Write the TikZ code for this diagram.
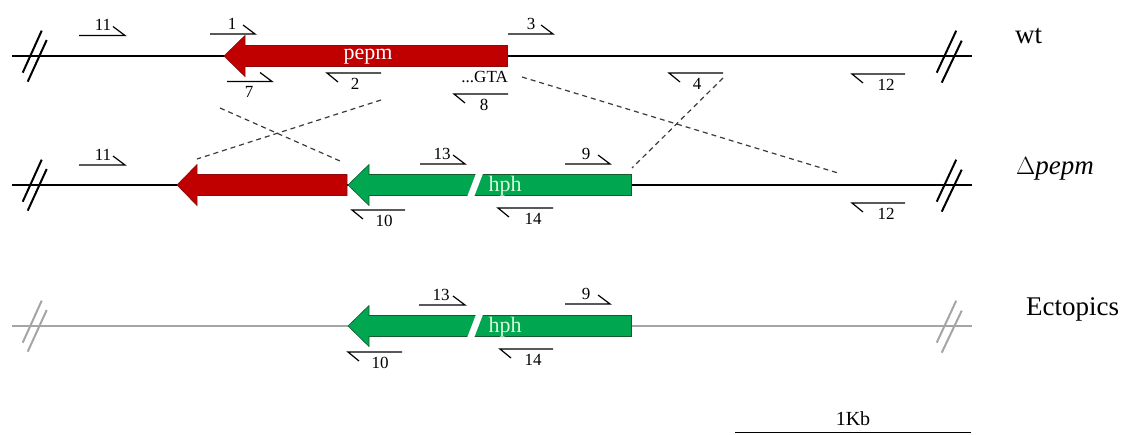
\documentclass[tikz,border=0pt]{standalone}
\usepackage{fontspec}
\setmainfont{Liberation Serif}
\definecolor{genered}{RGB}{192,0,0}
\definecolor{genereddk}{RGB}{140,10,10}
\definecolor{genegreen}{RGB}{0,166,80}
\definecolor{genegreendk}{RGB}{20,90,45}
\definecolor{hphtxt}{RGB}{215,248,218}
\definecolor{graylinec}{RGB}{165,165,165}
\definecolor{dashc}{RGB}{60,60,60}
\tikzset{
  chrom/.style={line width=2pt, black},
  chromgray/.style={line width=2pt, graylinec},
  brk/.style={line width=2pt, line cap=butt},
  primer/.style={line width=1.2pt, black},
  num/.style={font=\fontsize{17}{19}\selectfont, inner sep=0pt},
  rowlabel/.style={font=\fontsize{27}{30}\selectfont, inner sep=0pt, anchor=base west},
  genelabel/.style={font=\fontsize{22}{24}\selectfont, inner sep=0pt, anchor=base},
  redgene/.style={fill=genered, draw=genereddk, line width=0.6pt},
  greengene/.style={fill=genegreen, draw=genegreendk, line width=0.6pt},
  recomb/.style={dashed, dash pattern=on 5pt off 4pt, line width=1.2pt, dashc},
}
\newcommand{\primF}[6]{% name, x1, x2, y, labelx, text  (forward, label above)
  \draw[primer] (#2,#4) -- (#3,#4) -- ++(-12,-9);
  \node[num, anchor=base] (#1) at (#5,{#4-5}) {#6};
}
\newcommand{\primFb}[6]{% forward, label below
  \draw[primer] (#2,#4) -- (#3,#4) -- ++(-12,-9);
  \node[num, anchor=base] (#1) at (#5,{#4+16}) {#6};
}
\newcommand{\primR}[6]{% reverse, label below
  \draw[primer] ({#2+11},{#4+9}) -- (#2,#4) -- (#3,#4);
  \node[num, anchor=base] (#1) at (#5,{#4+16}) {#6};
}
\newcommand{\brks}[2]{% y, style color
  \draw[brk,#2] (41.7,{#1-25.3}) -- (22.7,{#1+16.7});
  \draw[brk,#2] (46.7,{#1-16}) -- (27.7,{#1+25.7});
  \draw[brk,#2] (956.2,{#1-25.3}) -- (936.7,{#1+16.7});
  \draw[brk,#2] (961.7,{#1-15.3}) -- (941.7,{#1+26.7});
}
\begin{document}
\begin{tikzpicture}[x=1pt,y=-1pt]
\useasboundingbox (0,0) rectangle (1131,434);
\fill[white] (0,0) rectangle (1131,434);

% ---------------- Row 1: wt ----------------
\draw[chrom] (12,56) -- (972,56);
\brks{56}{black}
\draw[redgene] (224,56) -- (245,35.5) -- (245,45.5) -- (507.5,45.5) -- (507.5,66.5) -- (245,66.5) -- (245,76.5) -- cycle;
\node[genelabel, white] (pepm) at (368,59) {pepm};
\node[num, anchor=base east] (gta) at (508,82.5) {...GTA};
\primF{p11a}{79}{125}{35.5}{103}{11}
\primF{p1}{210}{255}{34}{232}{1}
\primF{p3}{508}{553}{34}{531}{3}
\primFb{p7}{227}{272}{81.5}{249}{7}
\primR{p2}{327}{381}{73}{355}{2}
\primR{p8}{454}{508}{94}{484}{8}
\primR{p4}{669}{723}{73}{697}{4}
\primR{p12a}{852}{905}{74}{886}{12}
\node[rowlabel] (wt) at (1015,43) {wt};

% ---------------- Row 2: Delta pepm ----------------
\draw[chrom] (12,185) -- (972,185);
\brks{185}{black}
\draw[redgene] (177,185) -- (197,164.5) -- (197,174.5) -- (347,174.5) -- (347,195.5) -- (197,195.5) -- (197,205.5) -- cycle;
\draw[greengene] (348,185) -- (369,164.5) -- (369,174.5) -- (631.5,174.5) -- (631.5,195.5) -- (369,195.5) -- (369,205.5) -- cycle;
\fill[white] (467,197) -- (474,197) -- (483,173.5) -- (476,173.5) -- cycle;
\node[genelabel, hphtxt] (hph2) at (505,191) {hph};
\primF{p11b}{79}{125}{165}{103}{11}
\primF{p13b}{420}{465}{164}{442}{13}
\primF{p9b}{565}{610}{164}{586}{9}
\primR{p10b}{352}{405}{210}{384}{10}
\primR{p14b}{498}{553}{208}{533}{14}
\primR{p12b}{852}{905}{203}{886}{12}
\node[rowlabel] (dpepm) at (1016,174) {$\Delta$\textit{pepm}};

% ---------------- Row 3: Ectopics ----------------
\draw[chromgray] (12,326) -- (972,326);
\brks{326}{graylinec}
\draw[greengene] (348,326) -- (369,305.5) -- (369,315.5) -- (631.5,315.5) -- (631.5,336.5) -- (369,336.5) -- (369,346.5) -- cycle;
\fill[white] (467,338) -- (474,338) -- (483,314.5) -- (476,314.5) -- cycle;
\node[genelabel, hphtxt] (hph3) at (505,332) {hph};
\primF{p13c}{419}{465}{305}{441}{13}
\primF{p9c}{565}{610}{304}{586}{9}
\primR{p10c}{348}{402}{352}{380}{10}
\primR{p14c}{500}{553}{349}{533}{14}
\node[rowlabel] (ect) at (1026,315) {Ectopics};

% ---------------- recombination (dashed) ----------------
\coordinate (d1a) at (381,100); \coordinate (d1b) at (197,159);
\coordinate (d2a) at (220,108); \coordinate (d2b) at (340,161);
\coordinate (d3a) at (522,77);  \coordinate (d3b) at (838,173);
\coordinate (d4a) at (723,78);  \coordinate (d4b) at (632,168);
\draw[recomb] (d1a) -- (d1b);
\draw[recomb] (d2a) -- (d2b);
\draw[recomb] (d3a) -- (d3b);
\draw[recomb] (d4a) -- (d4b);

% ---------------- scale bar ----------------
\coordinate (sbl) at (735,432); \coordinate (sbr) at (971,432);
\draw[line width=1pt] (sbl) -- (sbr);
\node[font=\fontsize{20}{22}\selectfont, inner sep=0pt, anchor=base] (kb) at (853,425) {1Kb};
\end{tikzpicture}
\end{document}
